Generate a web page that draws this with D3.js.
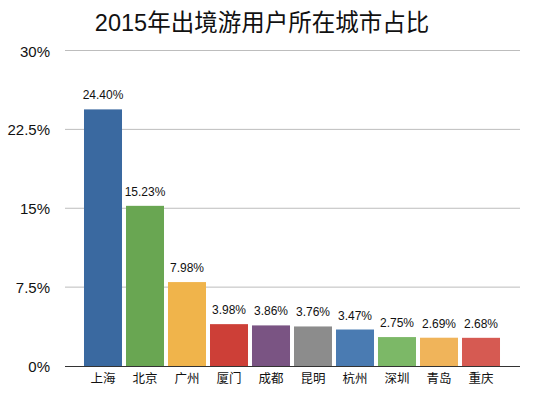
<!DOCTYPE html>
<html><head><meta charset="utf-8">
<script src="https://cdn.jsdelivr.net/npm/d3@7"></script>
<style>body{margin:0;background:#fff;}svg{display:block;}</style>
</head><body><svg id="c" width="544" height="398"></svg>
<script>
const title = "2015年出境游用户所在城市占比";
const categories = ["上海","北京","广州","厦门","成都","昆明","杭州","深圳","青岛","重庆"];
const values = [24.40,15.23,7.98,3.98,3.86,3.76,3.47,2.75,2.69,2.68];
const colors = ["#3a69a0","#69a652","#f0b44b","#cd3f37","#7a5483","#8c8c8c","#4a7bb2","#7cb867","#f0b45a","#d65a52"];
const yTicks = [0,7.5,15,22.5,30];
const yTickLabels = ["0%","7.5%","15%","22.5%","30%"];

const svg = d3.select("#c");
const font = "'Helvetica Neue', 'Liberation Sans', 'Noto Sans CJK SC', Arial, sans-serif";
const x = d3.scaleBand().domain(categories).range([82,502]).paddingInner(0.095).paddingOuter(0.0475);
const y = d3.scaleLinear().domain([0,30]).range([366,50.5]);

svg.append("text").attr("x",262).attr("y",31).attr("text-anchor","middle")
  .attr("font-family","'Liberation Sans', 'Noto Sans CJK SC', sans-serif").attr("font-size",23.5).attr("fill","#111").text(title);

// gridlines
svg.append("g").selectAll("line").data(yTicks.slice(1)).join("line")
  .attr("x1",65).attr("x2",520).attr("y1",d=>y(d)).attr("y2",d=>y(d))
  .attr("stroke","#bdbdbd").attr("stroke-width",1);

// y tick labels
svg.append("g").selectAll("text").data(yTicks).join("text")
  .attr("x",50).attr("y",d=>y(d)+6).attr("text-anchor","end")
  .attr("font-family",font).attr("font-size",15).attr("fill","#111")
  .text((d,i)=>yTickLabels[i]);

// bars
svg.append("g").selectAll("rect").data(values).join("rect")
  .attr("x",(d,i)=>x(categories[i])).attr("width",x.bandwidth())
  .attr("y",d=>y(d)).attr("height",d=>y(0)-y(d))
  .attr("fill",(d,i)=>colors[i]);

// value labels
svg.append("g").selectAll("text").data(values).join("text")
  .attr("x",(d,i)=>x(categories[i])+x.bandwidth()/2).attr("y",d=>y(d)-10)
  .attr("text-anchor","middle").attr("font-family",font).attr("font-size",12).attr("fill","#111")
  .text(d=>d.toFixed(2)+"%");

// baseline axis
svg.append("line").attr("x1",65).attr("x2",520).attr("y1",y(0)+0.5).attr("y2",y(0)+0.5)
  .attr("stroke","#333").attr("stroke-width",1);

// category labels
svg.append("g").selectAll("text").data(categories).join("text")
  .attr("x",d=>x(d)+x.bandwidth()/2).attr("y",382.5)
  .attr("text-anchor","middle").attr("font-family","'Noto Sans CJK SC', sans-serif").attr("font-size",12.5).attr("fill","#111")
  .text(d=>d);
</script></body></html>
